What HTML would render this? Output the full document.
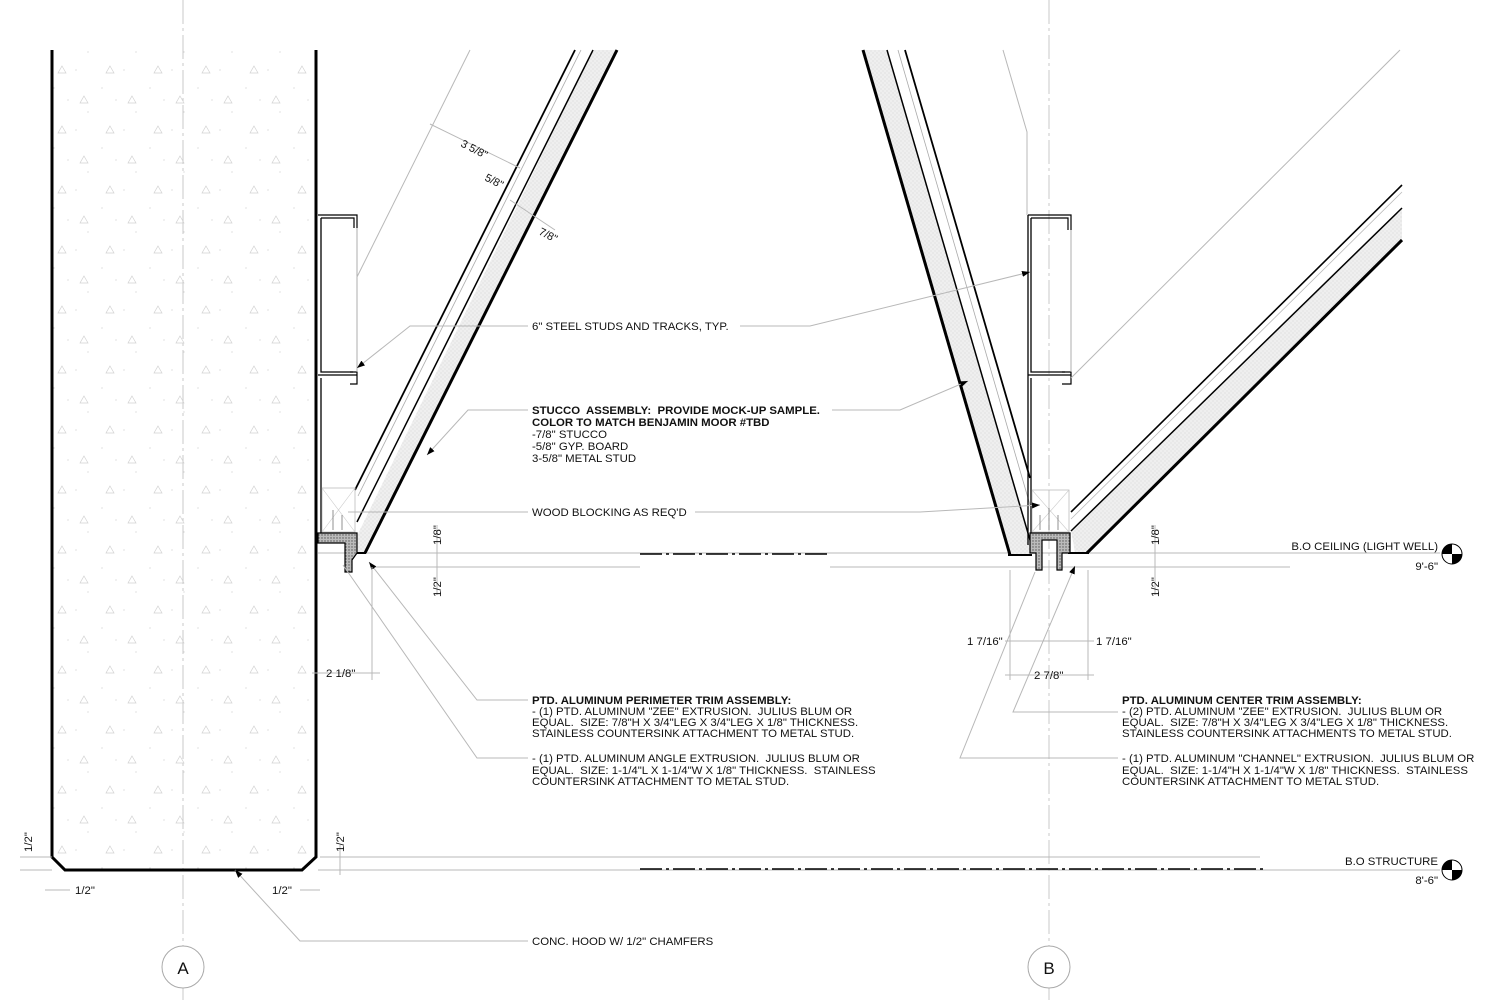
<!DOCTYPE html>
<html><head><meta charset="utf-8"><style>
html,body{margin:0;padding:0;background:#fff;}
svg{display:block;}
text{font-family:"Liberation Sans",Arial,sans-serif;fill:#111;white-space:pre;}
.t{font-size:11.4px;}
.b{font-size:11.4px;font-weight:bold;}
.thin{stroke:#b8b8b8;stroke-width:1;fill:none;}
.cl{stroke:#c8c8c8;stroke-width:1;fill:none;stroke-dasharray:24 4 3 4;}
.k{stroke:#000;fill:none;}
</style></head><body>
<svg width="1505" height="1000" viewBox="0 0 1505 1000" xmlns="http://www.w3.org/2000/svg" xml:space="preserve">
<defs>
<pattern id="conc" width="48" height="60" patternUnits="userSpaceOnUse">
<path d="M14 6 l4 7 h-8z M36 36 l4 7 h-8z" fill="none" stroke="#d2d2d2" stroke-width="0.7"/>
<circle cx="28" cy="10" r="0.6" fill="#ccc"/><circle cx="6" cy="28" r="0.6" fill="#ccc"/><circle cx="40" cy="52" r="0.6" fill="#ccc"/><circle cx="20" cy="40" r="0.6" fill="#ccc"/>
</pattern>
<pattern id="stuc" width="4" height="4" patternUnits="userSpaceOnUse">
<rect width="4" height="4" fill="#efefef"/><circle cx="1" cy="1" r="0.5" fill="#c8c8c8"/><circle cx="3" cy="3" r="0.5" fill="#d0d0d0"/>
</pattern>
<pattern id="trim" width="3" height="3" patternUnits="userSpaceOnUse">
<rect width="3" height="3" fill="#bbb"/><circle cx="1" cy="1" r="0.7" fill="#555"/>
</pattern>
<marker id="ar" markerWidth="8" markerHeight="6" refX="8" refY="3" orient="auto" markerUnits="userSpaceOnUse"><path d="M0 0 L8 3 L0 6z" fill="#000"/></marker>
</defs>

<line x1="183" y1="0" x2="183" y2="1000" class="cl"/>
<line x1="1049" y1="0" x2="1049" y2="1000" class="cl"/>

<path d="M52 50 V857 L65 870 H302 L316 857 V50" fill="url(#conc)" stroke="none"/>
<path d="M52 50 V857 L65 870 H302 L316 857 V50" class="k" stroke-width="3"/>

<line x1="318" y1="553" x2="1440" y2="553" class="thin"/>
<line x1="372" y1="567" x2="640" y2="567" class="thin"/>
<line x1="830" y1="567" x2="1290" y2="567" class="thin"/>
<line x1="640" y1="554" x2="828" y2="554" stroke="#000" stroke-width="1.5" stroke-dasharray="22 4 3 4"/>
<line x1="320" y1="857" x2="1260" y2="857" class="thin"/>
<line x1="318" y1="870" x2="1440" y2="870" class="thin"/>
<line x1="640" y1="869" x2="1265" y2="869" stroke="#000" stroke-width="1.5" stroke-dasharray="22 4 3 4"/>

<polygon points="593,50 617,50 365,553 355,553 355,540" fill="url(#stuc)"/>
<line x1="575" y1="50" x2="355" y2="490" class="k" stroke-width="1.8"/>
<line x1="581" y1="50" x2="358" y2="496" stroke="#aaa" stroke-width="0.8"/>
<line x1="593" y1="50" x2="357" y2="522" class="k" stroke-width="1.5"/>
<line x1="617" y1="50" x2="365" y2="553" class="k" stroke-width="3"/>
<line x1="352" y1="553" x2="366" y2="553" class="k" stroke-width="2"/>

<path d="M318 215 H357 V228 M321 218 H354 V228" class="k" stroke-width="1.2"/>
<path d="M321 218 V372 H353 M318 375 H357 M321 378 V535 H355" class="k" stroke-width="1.3"/>
<path d="M350 372 H357 V384 H350" class="k" stroke-width="1.2"/>
<line x1="357" y1="228" x2="357" y2="372" stroke="#999" stroke-width="0.8"/>
<rect x="322" y="488" width="33" height="44" fill="none" stroke="#bbb" stroke-width="0.8"/>
<path d="M322 488 L355 532 M355 488 L322 532" stroke="#ccc" stroke-width="0.6"/>
<path d="M333 510 V530 M342 515 V530" stroke="#777" stroke-width="0.8"/>
<polygon points="318,533 357,533 357,553 352,560 352,572 345,572 345,543 318,543" fill="url(#trim)" stroke="#000" stroke-width="1.2"/>

<polygon points="863,50 887,50 1030,540 1030,555 1010,555" fill="url(#stuc)"/>
<line x1="863" y1="50" x2="1010" y2="555" class="k" stroke-width="3"/>
<line x1="887" y1="50" x2="1030" y2="540" class="k" stroke-width="1.5"/>
<line x1="898" y1="50" x2="1030" y2="505" stroke="#aaa" stroke-width="0.8"/>
<line x1="905" y1="50" x2="1030" y2="478" class="k" stroke-width="1.8"/>
<line x1="1008" y1="555" x2="1032" y2="555" class="k" stroke-width="2"/>

<polygon points="1402,208 1402,240 1087,553 1075,553 1071,530" fill="url(#stuc)"/>
<line x1="1402" y1="185" x2="1071" y2="512" class="k" stroke-width="1.6"/>
<line x1="1402" y1="192" x2="1071" y2="519" stroke="#bbb" stroke-width="0.8"/>
<line x1="1402" y1="208" x2="1071" y2="531" class="k" stroke-width="1.5"/>
<line x1="1402" y1="240" x2="1087" y2="553" class="k" stroke-width="3"/>
<line x1="1068" y1="553" x2="1089" y2="553" class="k" stroke-width="2"/>

<path d="M1028 215 H1071 V230 M1031 218 H1068 V230" class="k" stroke-width="1.2"/>
<path d="M1028 215 V545 M1031 218 V372 H1065 M1028 375 H1071 M1031 378 V535 H1070" class="k" stroke-width="1.3"/>
<path d="M1062 372 H1071 V384 H1062" class="k" stroke-width="1.2"/>
<line x1="1071" y1="230" x2="1071" y2="372" stroke="#999" stroke-width="0.8"/>
<rect x="1032" y="490" width="37" height="42" fill="none" stroke="#bbb" stroke-width="0.8"/>
<path d="M1032 490 L1069 532 M1069 490 L1032 532" stroke="#ccc" stroke-width="0.6"/>
<path d="M1040 515 V530 M1049 508 V530 M1058 515 V530" stroke="#777" stroke-width="0.8"/>
<polygon points="1030,533 1070,533 1070,553 1062,553 1062,570 1057,570 1057,540 1042,540 1042,570 1036,570 1036,553 1030,553" fill="url(#trim)" stroke="#000" stroke-width="1.2"/>

<polyline points="470,50 357,277" class="thin"/>
<polyline points="1003,50 1027,132 1027,215" class="thin"/>
<polyline points="1400,50 1071,378" class="thin"/>
<polyline points="528,326 410,326 357,368" class="thin" marker-end="url(#ar)"/>
<polyline points="740,326 810,326 1030,272" class="thin" marker-end="url(#ar)"/>
<polyline points="528,410 468,410 427,455" class="thin" marker-end="url(#ar)"/>
<polyline points="832,410 900,410 968,381" class="thin" marker-end="url(#ar)"/>
<polyline points="528,512 348,512" class="thin"/>
<polyline points="695,512 920,512 1040,505" class="thin" marker-end="url(#ar)"/>
<polyline points="528,700 477,700 369,562" class="thin" marker-end="url(#ar)"/>
<polyline points="528,758 477,758 343,565" class="thin"/>
<polyline points="1118,712 1013,712 1075,566" class="thin" marker-end="url(#ar)"/>
<polyline points="1118,758 960,758 1035,572" class="thin"/>
<polyline points="528,941 300,941 235,870" class="thin" marker-end="url(#ar)"/>

<line x1="430" y1="124" x2="520" y2="168" class="thin"/>
<line x1="510" y1="200" x2="555" y2="230" class="thin"/>
<g font-size="11"><text transform="translate(460,146) rotate(27)">3 5/8"</text>
<text transform="translate(484,180) rotate(27)">5/8"</text>
<text transform="translate(538,234) rotate(27)">7/8"</text></g>

<line x1="437" y1="525" x2="437" y2="595" class="thin"/>
<text class="t" transform="translate(441,545) rotate(-90)">1/8"</text>
<text class="t" transform="translate(441,597) rotate(-90)">1/2"</text>
<line x1="1155" y1="525" x2="1155" y2="595" class="thin"/>
<text class="t" transform="translate(1159,545) rotate(-90)">1/8"</text>
<text class="t" transform="translate(1159,597) rotate(-90)">1/2"</text>
<line x1="372" y1="567" x2="372" y2="680" class="thin"/>
<line x1="312" y1="673" x2="380" y2="673" class="thin"/>
<text class="t" x="326" y="677">2 1/8"</text>
<line x1="1010" y1="570" x2="1010" y2="680" class="thin"/>
<line x1="1088" y1="570" x2="1088" y2="680" class="thin"/>
<line x1="1005" y1="641" x2="1094" y2="641" class="thin"/>
<line x1="1005" y1="675" x2="1094" y2="675" class="thin"/>
<text class="t" x="967" y="645">1 7/16"</text>
<text class="t" x="1096" y="645">1 7/16"</text>
<text class="t" x="1034" y="679">2 7/8"</text>
<line x1="20" y1="857" x2="52" y2="857" class="thin"/><line x1="20" y1="870" x2="52" y2="870" class="thin"/>
<text class="t" transform="translate(32,852) rotate(-90)">1/2"</text>
<line x1="340" y1="845" x2="340" y2="875" class="thin"/>
<text class="t" transform="translate(344,852) rotate(-90)">1/2"</text>
<line x1="45" y1="890" x2="70" y2="890" class="thin"/><text class="t" x="75" y="894">1/2"</text>
<line x1="300" y1="890" x2="320" y2="890" class="thin"/><text class="t" x="272" y="894">1/2"</text>

<text class="t" x="532" y="330">6" STEEL STUDS AND TRACKS, TYP.</text>
<text class="b" x="532" y="414">STUCCO  ASSEMBLY:  PROVIDE MOCK-UP SAMPLE.</text>
<text class="b" x="532" y="426">COLOR TO MATCH BENJAMIN MOOR #TBD</text>
<text class="t" x="532" y="438">-7/8" STUCCO</text>
<text class="t" x="532" y="450">-5/8" GYP. BOARD</text>
<text class="t" x="532" y="462">3-5/8" METAL STUD</text>
<text class="t" x="532" y="516">WOOD BLOCKING AS REQ'D</text>
<text class="b" x="532" y="704">PTD. ALUMINUM PERIMETER TRIM ASSEMBLY:</text>
<text class="t" x="532" y="715">- (1) PTD. ALUMINUM "ZEE" EXTRUSION.  JULIUS BLUM OR</text>
<text class="t" x="532" y="726">EQUAL.  SIZE: 7/8"H X 3/4"LEG X 3/4"LEG X 1/8" THICKNESS.</text>
<text class="t" x="532" y="737">STAINLESS COUNTERSINK ATTACHMENT TO METAL STUD.</text>
<text class="t" x="532" y="762">- (1) PTD. ALUMINUM ANGLE EXTRUSION.  JULIUS BLUM OR</text>
<text class="t" x="532" y="774">EQUAL.  SIZE: 1-1/4"L X 1-1/4"W X 1/8" THICKNESS.  STAINLESS</text>
<text class="t" x="532" y="785">COUNTERSINK ATTACHMENT TO METAL STUD.</text>
<text class="b" x="1122" y="704">PTD. ALUMINUM CENTER TRIM ASSEMBLY:</text>
<text class="t" x="1122" y="715">- (2) PTD. ALUMINUM "ZEE" EXTRUSION.  JULIUS BLUM OR</text>
<text class="t" x="1122" y="726">EQUAL.  SIZE: 7/8"H X 3/4"LEG X 3/4"LEG X 1/8" THICKNESS.</text>
<text class="t" x="1122" y="737">STAINLESS COUNTERSINK ATTACHMENTS TO METAL STUD.</text>
<text class="t" x="1122" y="762">- (1) PTD. ALUMINUM "CHANNEL" EXTRUSION.  JULIUS BLUM OR</text>
<text class="t" x="1122" y="774">EQUAL.  SIZE: 1-1/4"H X 1-1/4"W X 1/8" THICKNESS.  STAINLESS</text>
<text class="t" x="1122" y="785">COUNTERSINK ATTACHMENT TO METAL STUD.</text>
<text class="t" x="532" y="945">CONC. HOOD W/ 1/2" CHAMFERS</text>

<text class="t" x="1438" y="550" text-anchor="end">B.O CEILING (LIGHT WELL)</text>
<text class="t" x="1438" y="570" text-anchor="end">9'-6"</text>
<text class="t" x="1438" y="865" text-anchor="end">B.O STRUCTURE</text>
<text class="t" x="1438" y="884" text-anchor="end">8'-6"</text>
<g>
<circle cx="1452" cy="554" r="10" fill="#fff" stroke="#000"/>
<path d="M1452 554 V544 A10 10 0 0 0 1442 554z M1452 554 V564 A10 10 0 0 0 1462 554z" fill="#000"/>
<circle cx="1452" cy="870" r="10" fill="#fff" stroke="#000"/>
<path d="M1452 870 V860 A10 10 0 0 0 1442 870z M1452 870 V880 A10 10 0 0 0 1462 870z" fill="#000"/>
</g>

<circle cx="183" cy="967" r="21" fill="#fff" stroke="#aaa"/>
<text x="183" y="974" font-size="17" text-anchor="middle">A</text>
<circle cx="1049" cy="967" r="21" fill="#fff" stroke="#aaa"/>
<text x="1049" y="974" font-size="17" text-anchor="middle">B</text>
</svg>
</body></html>
